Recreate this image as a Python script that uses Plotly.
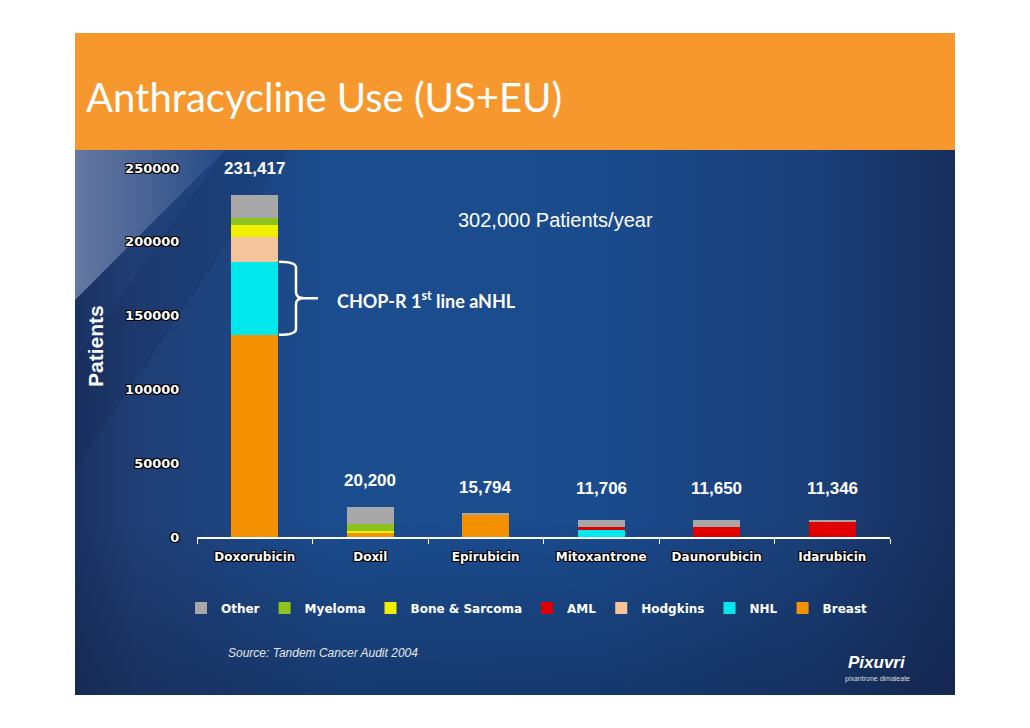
import plotly.graph_objects as go

# ---------------- data ----------------
categories = ["Doxorubicin", "Doxil", "Epirubicin", "Mitoxantrone", "Daunorubicin", "Idarubicin"]
totals = [231417, 20200, 15794, 11706, 11650, 11346]

breast = [137000, 2900, 15094, 0, 0, 0]
nhl = [49500, 0, 0, 4806, 0, 0]
hodgkins = [16500, 0, 0, 0, 0, 0]
aml = [0, 0, 0, 2100, 6650, 10446]
bone_sarcoma = [8300, 1300, 0, 0, 0, 0]
myeloma = [4800, 4500, 0, 0, 0, 0]
other = [15317, 11500, 700, 4800, 5000, 900]

y_ticks = [0, 50000, 100000, 150000, 200000, 250000]

# stacking order bottom -> top
series = [
    ("Breast", breast, "#F39100"),
    ("NHL", nhl, "#00E8EC"),
    ("Hodgkins", hodgkins, "#F4C49C"),
    ("AML", aml, "#E10000"),
    ("Bone & Sarcoma", bone_sarcoma, "#F0F000"),
    ("Myeloma", myeloma, "#8DC21F"),
    ("Other", other, "#A8A8A8"),
]

# ---------------- layout geometry (pixels) ----------------
W, H = 1030, 728
SL, SR, ST, SB = 75, 955, 33, 695          # slide rectangle
PL, PR, PT, PB = 197, 890, 168, 537        # bar plot area


def dom_x(a, b):
    return [(a - SL) / (SR - SL), (b - SL) / (SR - SL)]


def dom_y(top, bottom):
    return [(SB - bottom) / (SB - ST), (SB - top) / (SB - ST)]


fig = go.Figure()

# ---------------- background (pixel-coordinate subplot x/y) ----------------
bg = dict(xaxis="x", yaxis="y", hoverinfo="skip", showlegend=False, mode="none", fill="toself")
fig.add_trace(go.Scatter(
    x=[SL, SR, SR, SL, SL], y=[150, 150, SB, SB, 150],
    fillgradient=dict(type="horizontal", start=SL, stop=SR,
                      colorscale=[[0, "#1b3262"], [0.07, "#203e75"], [0.3, "#1b4d8f"],
                                  [0.6, "#1a4b8d"], [0.85, "#1a3e77"], [1, "#172e5c"]]),
    **bg))
# bottom darkening
fig.add_trace(go.Scatter(
    x=[SL, SR, SR, SL, SL], y=[520, 520, SB, SB, 520],
    fillgradient=dict(type="vertical", start=520, stop=SB,
                      colorscale=[[0, "rgba(14,28,60,0)"], [1, "rgba(14,28,60,0.4)"]]),
    **bg))
# light top-left wedge
fig.add_trace(go.Scatter(
    x=[SL, 225, SL, SL], y=[150, 150, 300, 150],
    fillgradient=dict(type="horizontal", start=SL, stop=225,
                      colorscale=[[0, "rgba(175,190,225,0.5)"], [1, "rgba(175,190,225,0.05)"]]),
    **bg))
# subtle darker diagonal band
fig.add_trace(go.Scatter(
    x=[225, 290, 75, 75, 225], y=[150, 150, 470, 360, 150],
    fillcolor="rgba(10,25,60,0.12)", **bg))

# ---------------- bars (subplot x2/y2) ----------------
for name, vals, color in series:
    fig.add_trace(go.Bar(
        x=categories, y=vals, name=name, marker=dict(color=color, line=dict(width=0)),
        xaxis="x2", yaxis="y2", hoverinfo="skip"))

# ---------------- annotations ----------------
ann = []
white = "#FFFFFF"
ann.append(dict(text="Anthracycline Use (US+EU)", x=84, y=97, xref="x", yref="y",
                xanchor="left", yanchor="middle", showarrow=False,
                font=dict(family="Lato", size=40, color=white)))
for cat, tot in zip(categories, totals):
    ann.append(dict(text=f"{tot:,}", x=cat, y=max(tot + 18000, 33000), xref="x2", yref="y2",
                    showarrow=False, xanchor="center", yanchor="middle",
                    font=dict(family="Liberation Sans", size=17, color=white, weight="bold")))
ann.append(dict(text="302,000 Patients/year", x=555, y=220, xref="x", yref="y", showarrow=False,
                font=dict(family="Liberation Sans", size=20, color=white)))
ann.append(dict(text="CHOP-R 1<sup>st</sup> line aNHL", x=426, y=300, xref="x", yref="y", showarrow=False,
                font=dict(family="Lato", size=18, color=white, weight="bold")))
ann.append(dict(text="Patients", x=95, y=346, xref="x", yref="y", showarrow=False, textangle=-90,
                font=dict(family="Liberation Sans", size=21, color=white, weight="bold")))
ann.append(dict(text="<i>Source: Tandem Cancer Audit 2004</i>", x=226, y=653, xref="x", yref="y",
                xanchor="left", showarrow=False,
                font=dict(family="Liberation Sans", size=12, color="#E6E6E6")))
ann.append(dict(text="<b><i>Pixuvri</i></b>", x=877, y=662, xref="x", yref="y", showarrow=False,
                font=dict(family="Liberation Sans", size=17, color=white)))
ann.append(dict(text="pixantrone dimaleate", x=877, y=679, xref="x", yref="y", showarrow=False,
                font=dict(family="Liberation Sans", size=7, color="#DDDDDD")))

# ---------------- brace around NHL segment of Doxorubicin ----------------
y0 = breast[0]
y1 = breast[0] + nhl[0]
ym = (y0 + y1) / 2
r = 4000
brace = (f"M 279,{y1} Q 296,{y1} 296,{y1 - r} L 296,{ym + r} Q 296,{ym} 304,{ym} "
         f"Q 296,{ym} 296,{ym - r} L 296,{y0 + r} Q 296,{y0} 279,{y0} "
         f"M 304,{ym} L 318,{ym}")

shapes = [
    dict(type="rect", xref="x", yref="y", x0=SL, x1=SR, y0=ST, y1=150,
         fillcolor="#F7982E", line=dict(width=0), layer="below"),
    dict(type="path", xref="x", yref="y2", path=brace, line=dict(color=white, width=2.5)),
]

shadow = "-1px -1px 0 #000, 1px -1px 0 #000, -1px 1px 0 #000, 1px 1px 0 #000"

fig.update_layout(
    width=W, height=H,
    margin=dict(l=SL, r=W - SR, t=ST, b=H - SB, pad=0),
    paper_bgcolor="white", plot_bgcolor="rgba(0,0,0,0)",
    barmode="stack", bargap=0.59,
    hovermode=False,
    showlegend=True,
    legend=dict(orientation="h", traceorder="reversed", x=(181 - SL) / (SR - SL),
                y=(SB - 608) / (SB - ST), xanchor="left", yanchor="middle",
                bgcolor="rgba(0,0,0,0)",
                font=dict(family="DejaVu Sans", size=12, color=white, weight="bold")),
    xaxis=dict(domain=[0, 1], range=[SL, SR], visible=False, fixedrange=True),
    yaxis=dict(domain=[0, 1], range=[SB, ST], visible=False, fixedrange=True),
    xaxis2=dict(domain=dom_x(PL, PR), anchor="y2", type="category", showgrid=False, zeroline=False,
                showline=True, linecolor=white, linewidth=2,
                ticks="outside", tickson="boundaries", ticklen=5, tickcolor=white,
                ticklabelstandoff=8,
                tickfont=dict(family="DejaVu Sans", size=12, color=white, weight="bold", shadow=shadow)),
    yaxis2=dict(domain=dom_y(PT, PB), anchor="x2", range=[0, 250000], tickvals=y_ticks,
                tickformat="d", showgrid=False, zeroline=False, showline=False,
                ticks="outside", ticklen=14, tickcolor="rgba(0,0,0,0)",
                tickfont=dict(family="DejaVu Sans", size=13, color=white, weight="bold", shadow=shadow)),
    annotations=ann,
    shapes=shapes,
)

fig.write_html("out.html")
